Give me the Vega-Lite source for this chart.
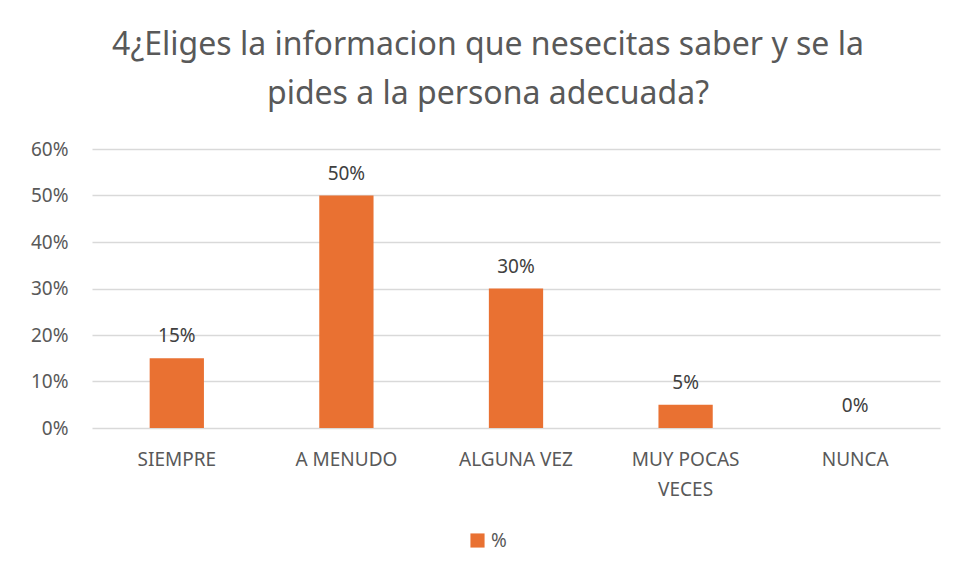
{
  "$schema": "https://vega.github.io/schema/vega-lite/v6.json",
  "width": 848,
  "height": 279,
  "autosize": "none",
  "padding": {"left": 92, "top": 149, "right": 16, "bottom": 147},
  "background": "#ffffff",
  "config": {
    "font": "Noto Sans",
    "view": {"stroke": null}
  },
  "title": {
    "text": ["4¿Eliges la informacion que nesecitas saber y se la", "pides a la persona adecuada?"],
    "font": "Noto Sans",
    "fontSize": 32,
    "fontWeight": "normal",
    "color": "#595959",
    "lineHeight": 49,
    "anchor": "middle",
    "dx": -28,
    "offset": 29
  },
  "data": {
    "values": [
      {"categoria": "SIEMPRE", "valor": 0.15, "serie": "%"},
      {"categoria": "A MENUDO", "valor": 0.50, "serie": "%"},
      {"categoria": "ALGUNA VEZ", "valor": 0.30, "serie": "%"},
      {"categoria": "MUY POCAS VECES", "valor": 0.05, "serie": "%"},
      {"categoria": "NUNCA", "valor": 0.0, "serie": "%"}
    ]
  },
  "encoding": {
    "x": {
      "field": "categoria",
      "type": "nominal",
      "sort": null,
      "scale": {"paddingInner": 0.68, "paddingOuter": 0.34},
      "axis": {
        "title": null,
        "labelAngle": 0,
        "labelFontSize": 19,
        "labelColor": "#595959",
        "labelPadding": 22,
        "labelLineHeight": 30,
        "labelBaseline": "top",
        "ticks": false,
        "domain": false,
        "labelExpr": "datum.label == 'MUY POCAS VECES' ? ['MUY POCAS', 'VECES'] : datum.label"
      }
    },
    "y": {
      "field": "valor",
      "type": "quantitative",
      "scale": {"domain": [0, 0.6]},
      "axis": {
        "title": null,
        "values": [0, 0.1, 0.2, 0.3, 0.4, 0.5, 0.6],
        "format": ".0%",
        "labelFontSize": 19,
        "labelColor": "#595959",
        "labelPadding": 24,
        "ticks": false,
        "domain": false,
        "gridColor": "#D9D9D9",
        "gridWidth": 1.3
      }
    }
  },
  "layer": [
    {
      "mark": {"type": "bar"},
      "encoding": {
        "color": {
          "field": "serie",
          "type": "nominal",
          "scale": {"range": ["#E97132"]},
          "legend": {
            "title": null,
            "orient": "none",
            "legendX": 376,
            "legendY": 382,
            "direction": "horizontal",
            "symbolType": "square",
            "symbolSize": 200,
            "symbolStrokeWidth": 0,
            "labelFontSize": 19,
            "labelColor": "#595959"
          }
        }
      }
    },
    {
      "mark": {"type": "text", "baseline": "bottom", "dy": -12, "fontSize": 19, "color": "#404040"},
      "encoding": {
        "text": {"field": "valor", "type": "quantitative", "format": ".0%"}
      }
    }
  ]
}
